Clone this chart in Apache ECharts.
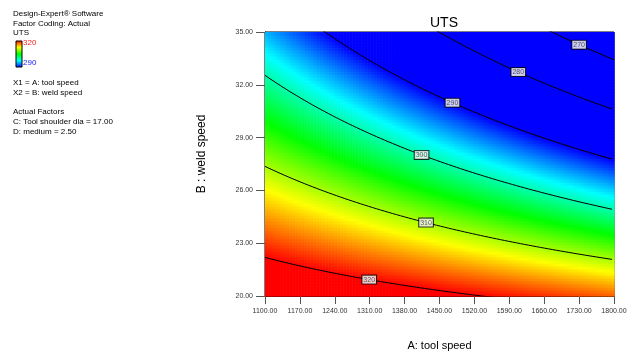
<!DOCTYPE html>
<html>
<head>
<meta charset="utf-8">
<script src="https://cdn.jsdelivr.net/npm/echarts@6/dist/echarts.min.js"></script>
<style>
html, body { margin: 0; padding: 0; background: #fff; }
#chart { width: 634px; height: 356px; }
</style>
</head>
<body>
<div id="chart"></div>
<script>
// Factor ranges in actual units
const toolSpeedRange = [1100, 1800];
const weldSpeedRange = [20, 35];
const toolSpeedTicks = [1100, 1170, 1240, 1310, 1380, 1450, 1520, 1590, 1660, 1730, 1800];
const weldSpeedTicks = [20, 23, 26, 29, 32, 35];

// Fitted UTS response model, coded factors A and B in [-1, 1]
const modelTerms = ['Intercept', 'A', 'B', 'AB', 'A^2', 'B^2'];
const modelCoefs = [300.4, -9.44, -20.45, -5.95, -0.1, 0];

// Contour levels and where along tool speed each level is tagged
const contourLevels = [270, 280, 290, 300, 310, 320];
const labelToolSpeed = [1730, 1608, 1476, 1414, 1423, 1309];

// Colour scale: blue (low) through cyan, green, yellow to red (high)
const colorLevels = [290, 297.5, 305, 312.5, 320];
const colorStops = ['#0000ff', '#00ffff', '#00ff00', '#ffff00', '#ff0000'];

// Side notes
const infoLines = [
  ['Design-Expert\u00ae Software', 15],
  ['Factor Coding: Actual', 25],
  ['UTS', 34],
  ['X1 = A: tool speed', 84],
  ['X2 = B: weld speed', 94],
  ['Actual Factors', 113],
  ['C: Tool shoulder dia = 17.00', 123],
  ['D: medium = 2.50', 133]
];

const FONT = 'Arial, "Liberation Sans", sans-serif';

function coded(v, range) {
  const mid = (range[0] + range[1]) / 2;
  const half = (range[1] - range[0]) / 2;
  return (v - mid) / half;
}

function predict(A, B) {
  const a = coded(A, toolSpeedRange);
  const b = coded(B, weldSpeedRange);
  const t = [1, a, b, a * b, a * a, b * b];
  let s = 0;
  for (let i = 0; i < t.length; i++) s += modelCoefs[i] * t[i];
  return s;
}

function hexToRgb(h) {
  return [parseInt(h.slice(1, 3), 16), parseInt(h.slice(3, 5), 16), parseInt(h.slice(5, 7), 16)];
}
const stopRgb = colorStops.map(hexToRgb);

function colorFor(v) {
  if (v <= colorLevels[0]) return colorStops[0];
  const n = colorLevels.length;
  if (v >= colorLevels[n - 1]) return colorStops[n - 1];
  for (let i = 0; i < n - 1; i++) {
    if (v <= colorLevels[i + 1]) {
      const f = (v - colorLevels[i]) / (colorLevels[i + 1] - colorLevels[i]);
      const c0 = stopRgb[i], c1 = stopRgb[i + 1];
      const r = Math.round(c0[0] + (c1[0] - c0[0]) * f);
      const g = Math.round(c0[1] + (c1[1] - c0[1]) * f);
      const bl = Math.round(c0[2] + (c1[2] - c0[2]) * f);
      return 'rgb(' + r + ',' + g + ',' + bl + ')';
    }
  }
  return colorStops[n - 1];
}

// Surface cells evaluated on a regular grid of the two factors
const cellsX = 116, cellsY = 88;
const cells = [];
const dA = (toolSpeedRange[1] - toolSpeedRange[0]) / cellsX;
const dB = (weldSpeedRange[1] - weldSpeedRange[0]) / cellsY;
for (let i = 0; i < cellsX; i++) {
  for (let j = 0; j < cellsY; j++) {
    const A0 = toolSpeedRange[0] + i * dA, A1 = A0 + dA;
    const B0 = weldSpeedRange[0] + j * dB, B1 = B0 + dB;
    cells.push([A0, A1, B0, B1, predict((A0 + A1) / 2, (B0 + B1) / 2)]);
  }
}

// Weld speed at which the surface reaches a level for a given tool speed
function levelWeldSpeed(A, level) {
  let lo = -10, hi = 70;
  let flo = predict(A, lo) - level;
  for (let k = 0; k < 60; k++) {
    const mid = (lo + hi) / 2;
    const fm = predict(A, mid) - level;
    if ((fm > 0) === (flo > 0)) { lo = mid; flo = fm; } else { hi = mid; }
  }
  return (lo + hi) / 2;
}

const contourSeries = contourLevels.map(function (lv) {
  const pts = [];
  for (let A = toolSpeedRange[0]; A <= toolSpeedRange[1] + 1e-9; A += 4) {
    pts.push([A, levelWeldSpeed(A, lv)]);
  }
  return {
    type: 'line',
    data: pts,
    showSymbol: false,
    symbol: 'none',
    clip: true,
    silent: true,
    animation: false,
    z: 5,
    lineStyle: { color: '#000', width: 1 }
  };
});

const labelPoints = contourLevels.map(function (lv, i) {
  return [labelToolSpeed[i], levelWeldSpeed(labelToolSpeed[i], lv), lv];
});

const chart = echarts.init(document.getElementById('chart'), null, { renderer: 'canvas' });

const graphics = infoLines.map(function (l) {
  return {
    type: 'text', left: 13, top: l[1] - 5,
    style: { text: l[0], font: '8px ' + FONT, fill: '#000' }
  };
});
graphics.push({
  type: 'rect', shape: { x: 16, y: 41, width: 6, height: 26 },
  style: {
    fill: new echarts.graphic.LinearGradient(0, 0, 0, 1, [
      { offset: 0, color: colorStops[4] },
      { offset: 0.25, color: colorStops[3] },
      { offset: 0.5, color: colorStops[2] },
      { offset: 0.75, color: colorStops[1] },
      { offset: 1, color: colorStops[0] }
    ]),
    stroke: '#000', lineWidth: 1
  }
});
graphics.push({
  type: 'text', left: 23, top: 39,
  style: { text: String(colorLevels[4]), font: '8px ' + FONT, fill: '#ff2020' }
});
graphics.push({
  type: 'text', left: 23, top: 59,
  style: { text: String(colorLevels[0]), font: '8px ' + FONT, fill: '#2020ff' }
});

chart.setOption({
  animation: false,
  title: {
    text: 'UTS',
    left: 439,
    top: 11,
    textAlign: 'center',
    textStyle: { fontFamily: FONT, fontSize: 14, fontWeight: 'normal', color: '#000' }
  },
  graphic: graphics,
  grid: {
    left: 265, right: 20, top: 32, bottom: 59,
    show: true, borderColor: '#000', borderWidth: 1, backgroundColor: 'transparent'
  },
  xAxis: {
    type: 'value',
    min: toolSpeedRange[0],
    max: toolSpeedRange[1],
    name: 'A: tool speed',
    nameLocation: 'middle',
    nameGap: 44,
    nameTextStyle: { fontFamily: FONT, fontSize: 11, color: '#000' },
    axisLine: { lineStyle: { color: '#000', width: 1 } },
    axisTick: { show: true, length: 8, customValues: toolSpeedTicks, lineStyle: { color: '#555' } },
    axisLabel: {
      customValues: toolSpeedTicks,
      formatter: function (v) { return Number(v).toFixed(2); },
      fontFamily: FONT, fontSize: 7, color: '#333', margin: 12
    },
    splitLine: { show: false }
  },
  yAxis: {
    type: 'value',
    min: weldSpeedRange[0],
    max: weldSpeedRange[1],
    name: 'B : weld speed',
    nameLocation: 'middle',
    nameGap: 57,
    nameTextStyle: { fontFamily: FONT, fontSize: 12, color: '#000', padding: [0, 0, 0, 20] },
    axisLine: { lineStyle: { color: '#000', width: 1 } },
    axisTick: { show: true, length: 9, customValues: weldSpeedTicks, lineStyle: { color: '#555' } },
    axisLabel: {
      customValues: weldSpeedTicks,
      formatter: function (v) { return Number(v).toFixed(2); },
      fontFamily: FONT, fontSize: 7, color: '#333', margin: 12
    },
    splitLine: { show: false }
  },
  series: [
    {
      type: 'custom',
      data: cells,
      clip: true,
      silent: true,
      animation: false,
      z: 1,
      encode: { x: [0, 1], y: [2, 3] },
      renderItem: function (params, api) {
        const p0 = api.coord([api.value(0), api.value(3)]);
        const p1 = api.coord([api.value(1), api.value(2)]);
        return {
          type: 'rect',
          shape: { x: p0[0], y: p0[1], width: p1[0] - p0[0] + 0.6, height: p1[1] - p0[1] + 0.6 },
          style: { fill: colorFor(api.value(4)) }
        };
      }
    }
  ].concat(contourSeries).concat([
    {
      type: 'scatter',
      data: labelPoints,
      symbolSize: 0,
      silent: true,
      animation: false,
      z: 10,
      label: {
        show: true,
        position: 'inside',
        formatter: function (p) { return String(p.value[2]); },
        fontFamily: FONT, fontSize: 7, color: '#333',
        backgroundColor: '#fff', borderColor: '#000', borderWidth: 1,
        padding: [1, 1, 0, 1]
      }
    }
  ])
});
</script>
</body>
</html>
